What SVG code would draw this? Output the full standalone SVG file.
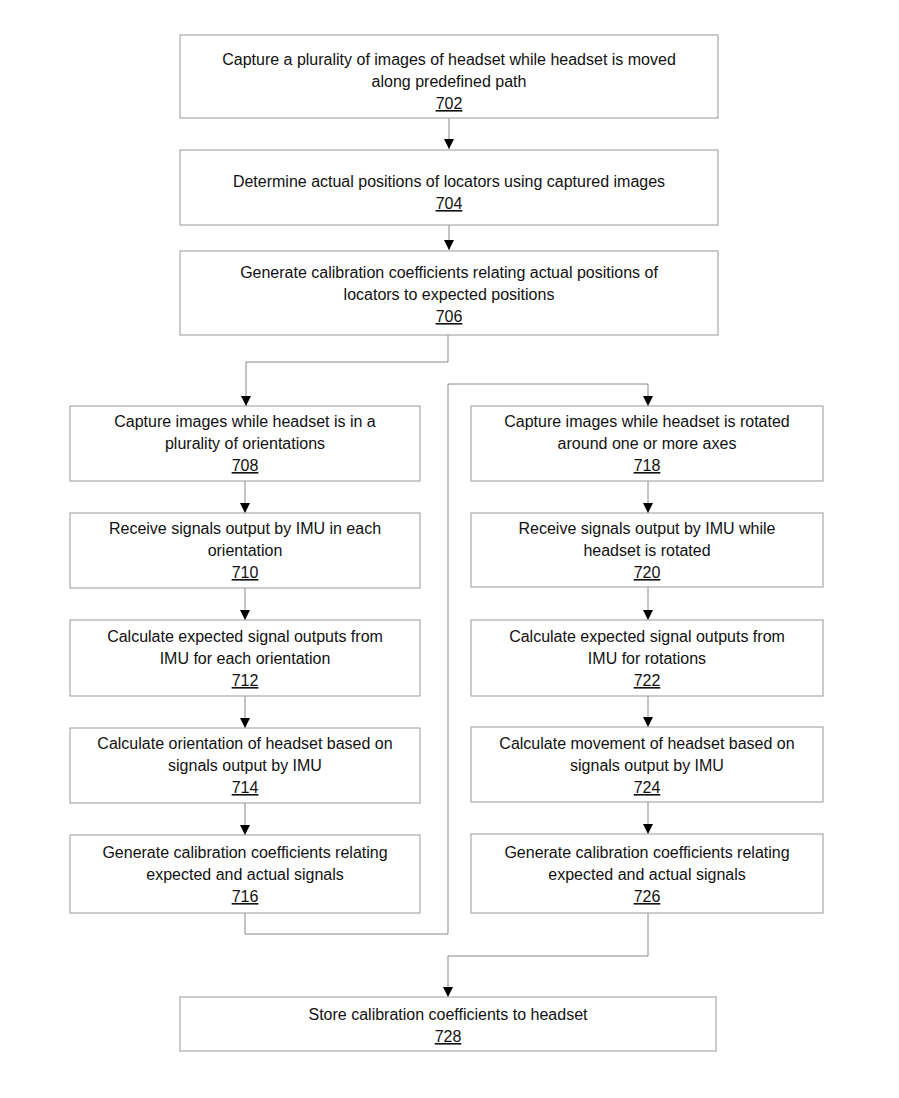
<svg xmlns="http://www.w3.org/2000/svg" width="899" height="1098" viewBox="0 0 899 1098">
<style>
rect{fill:#fff;stroke:#999;stroke-width:1}
text{font-family:"Liberation Sans",Arial,sans-serif;font-size:16px;fill:#111;text-anchor:middle}
.n{text-decoration:underline}
.c{fill:none;stroke:#888;stroke-width:1}
</style>
<defs><marker id="a" viewBox="0 0 10 10" refX="10" refY="5" markerWidth="10" markerHeight="10" markerUnits="userSpaceOnUse" orient="auto"><path d="M0,0L10,5L0,10z" fill="#000"/></marker></defs>
<rect width="899" height="1098" style="stroke:none"/>
<g id="connectors">
<path class="c" d="M449,118V149" marker-end="url(#a)"/>
<path class="c" d="M449,225V250" marker-end="url(#a)"/>
<path class="c" d="M448,335V362H246V406" marker-end="url(#a)"/>
<path class="c" d="M245,481V513" marker-end="url(#a)"/>
<path class="c" d="M245,588V620" marker-end="url(#a)"/>
<path class="c" d="M245,696V728" marker-end="url(#a)"/>
<path class="c" d="M245,803V835" marker-end="url(#a)"/>
<path class="c" d="M245,913V934H448V384H648V406" marker-end="url(#a)"/>
<path class="c" d="M648,481V513" marker-end="url(#a)"/>
<path class="c" d="M648,587V620" marker-end="url(#a)"/>
<path class="c" d="M648,696V727" marker-end="url(#a)"/>
<path class="c" d="M648,802V834" marker-end="url(#a)"/>
<path class="c" d="M648,913V956H448V997" marker-end="url(#a)"/>
</g>
<g id="n702"><rect x="180" y="35" width="538" height="83"/><text x="449" y="65">Capture a plurality of images of headset while headset is moved</text><text x="449" y="87">along predefined path</text><text class="n" x="449" y="109">702</text></g>
<g id="n704"><rect x="180" y="150" width="538" height="75"/><text x="449" y="187">Determine actual positions of locators using captured images</text><text class="n" x="449" y="209">704</text></g>
<g id="n706"><rect x="180" y="251" width="538" height="84"/><text x="449" y="278">Generate calibration coefficients relating actual positions of</text><text x="449" y="300">locators to expected positions</text><text class="n" x="449" y="322">706</text></g>
<g id="n708"><rect x="70" y="406" width="350" height="75"/><text x="245" y="427">Capture images while headset is in a</text><text x="245" y="449">plurality of orientations</text><text class="n" x="245" y="471">708</text></g>
<g id="n710"><rect x="70" y="513" width="350" height="75"/><text x="245" y="534">Receive signals output by IMU in each</text><text x="245" y="556">orientation</text><text class="n" x="245" y="578">710</text></g>
<g id="n712"><rect x="70" y="620" width="350" height="76"/><text x="245" y="642">Calculate expected signal outputs from</text><text x="245" y="664">IMU for each orientation</text><text class="n" x="245" y="686">712</text></g>
<g id="n714"><rect x="70" y="728" width="350" height="75"/><text x="245" y="749">Calculate orientation of headset based on</text><text x="245" y="771">signals output by IMU</text><text class="n" x="245" y="793">714</text></g>
<g id="n716"><rect x="70" y="835" width="350" height="78"/><text x="245" y="858">Generate calibration coefficients relating</text><text x="245" y="880">expected and actual signals</text><text class="n" x="245" y="902">716</text></g>
<g id="n718"><rect x="471" y="406" width="352" height="75"/><text x="647" y="427">Capture images while headset is rotated</text><text x="647" y="449">around one or more axes</text><text class="n" x="647" y="471">718</text></g>
<g id="n720"><rect x="471" y="513" width="352" height="74"/><text x="647" y="534">Receive signals output by IMU while</text><text x="647" y="556">headset is rotated</text><text class="n" x="647" y="578">720</text></g>
<g id="n722"><rect x="471" y="620" width="352" height="76"/><text x="647" y="642">Calculate expected signal outputs from</text><text x="647" y="664">IMU for rotations</text><text class="n" x="647" y="686">722</text></g>
<g id="n724"><rect x="471" y="727" width="352" height="75"/><text x="647" y="749">Calculate movement of headset based on</text><text x="647" y="771">signals output by IMU</text><text class="n" x="647" y="793">724</text></g>
<g id="n726"><rect x="471" y="834" width="352" height="79"/><text x="647" y="858">Generate calibration coefficients relating</text><text x="647" y="880">expected and actual signals</text><text class="n" x="647" y="902">726</text></g>
<g id="n728"><rect x="180" y="997" width="536" height="54"/><text x="448" y="1020">Store calibration coefficients to headset</text><text class="n" x="448" y="1042">728</text></g>
</svg>
